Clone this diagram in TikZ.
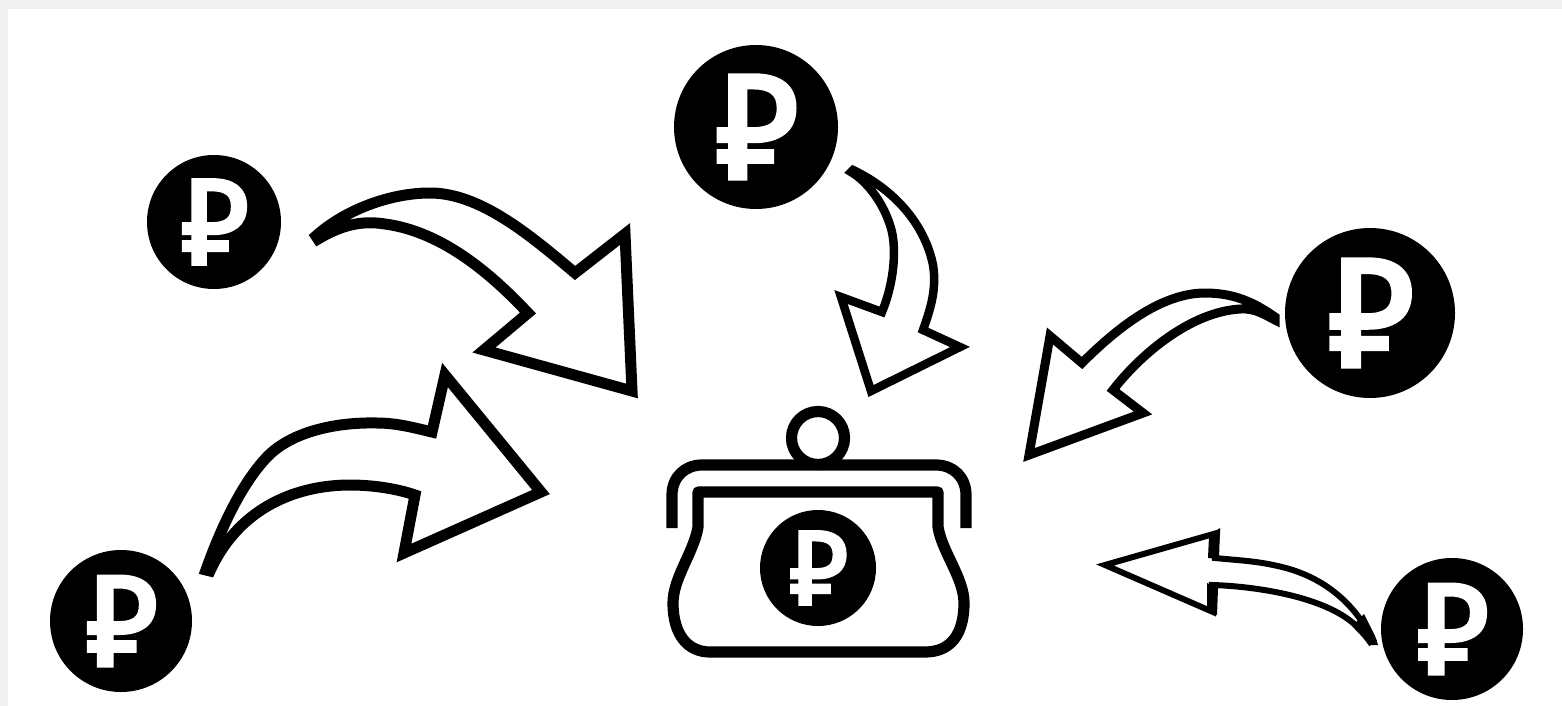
\documentclass[tikz,border=0pt]{standalone}
\usepackage{fontspec}
\setmainfont{Fira Sans}[FakeBold=3.5,BoldFont={Fira Sans}]
\tikzset{
  coinbody/.style={circle,fill=black,text=white,inner sep=0pt,outer sep=0pt},
  shaft/.style={draw=black,fill=white,line join=miter,miter limit=6},
  purse/.style={draw=black,line width=5.6pt,line join=round}
}
\newcommand\coin[4]{%
  \pgfmathsetmacro\fs{0.93*#4}%
  \pgfmathsetmacro\dm{#4}%
  \node[coinbody,minimum size=\dm pt,font={\fontsize{\fs pt}{\fs pt}\selectfont}] (#1) at (#2,#3) {₽};}
\begin{document}
\begin{tikzpicture}[x=0.5pt,y=-0.5pt]
\useasboundingbox (0,0) rectangle (1562,706);
\fill[white] (0,0) rectangle (1562,706);
\fill[black!6] (0,0) rectangle (1562,9);
\fill[black!6] (0,0) rectangle (8,706);
\coin{a}{214}{222}{67}
\coin{b}{756}{127}{82}
\coin{c}{1370}{313}{85}
\coin{d}{121}{621}{71}
\coin{e}{1452}{629}{71}
\coin{f}{818}{568}{58}
% arrows
\draw[shaft,line width=5.5pt] (316,236) .. controls (345,210) and (390,193) .. (430,193) .. controls (480,193) and (530,235) .. (575,273) -- (625,234) -- (632,391) -- (484,350) -- (528,313) .. controls (495,278) and (445,232) .. (385,224) .. controls (360,220) and (340,226) .. (318,239) -- cycle;
\draw[shaft,line width=5.5pt] (206,570) .. controls (222,525) and (243,482) .. (267,457) .. controls (291,432) and (335,422) .. (377,423) .. controls (397,423) and (415,428) .. (432,432) -- (445,375) -- (541,492) -- (404,553) -- (415,495) .. controls (395,488) and (370,485) .. (350,485) .. controls (300,485) and (240,505) .. (210,571) -- cycle;
\draw[shaft,line width=4.25pt] (853,170) .. controls (895,190) and (925,225) .. (933,265) .. controls (937,290) and (930,310) .. (923,330) -- (960,347) -- (871,391) -- (841,297) -- (882,312) .. controls (895,280) and (897,245) .. (890,225) .. controls (882,200) and (865,180) .. (851,172) -- cycle;
\draw[shaft,line width=4.5pt] (1275,317) .. controls (1255,303) and (1235,293) .. (1205,293) .. controls (1160,293) and (1115,330) .. (1082,363) -- (1050,336) -- (1029,455) -- (1143,413) -- (1113,390) .. controls (1140,355) and (1190,312) .. (1240,309) .. controls (1255,308) and (1265,315) .. (1275,320) -- cycle;
\draw[shaft,line width=3pt] (1373,640) .. controls (1355,605) and (1325,575) .. (1273,565) .. controls (1255,561) and (1235,560) .. (1215,558) -- (1217,533) -- (1105,565) -- (1213,612) -- (1212,585) .. controls (1250,586) and (1320,595) .. (1353,623) .. controls (1360,630) and (1365,635) .. (1370,642) -- cycle;
\fill (1209,536) -- (1220,528) -- (1219,559) -- (1208,558) -- cycle;
\fill (1207,583) -- (1218,588) -- (1217,615) -- (1207,609) -- cycle;
\fill (1369,645) -- (1378,645) -- (1375,636) -- (1364,614) -- (1354,624) -- cycle;
% purse
\draw[purse] (818,438) circle[radius=26.5];
\draw[purse,line cap=butt] (672,528) -- (672,495) .. controls (672,477) and (685,465) .. (702,465) -- (936,465) .. controls (953,465) and (966,477) .. (966,495) -- (966,528);
\draw[purse] (698,527) -- (698,492) -- (938,492) -- (938,527) .. controls (942,552) and (964,578) .. (964,603) .. controls (964,635) and (950,652) .. (925,652) -- (710,652) .. controls (688,652) and (673,635) .. (673,603) .. controls (673,578) and (694,552) .. (698,527) -- cycle;
\end{tikzpicture}
\end{document}
